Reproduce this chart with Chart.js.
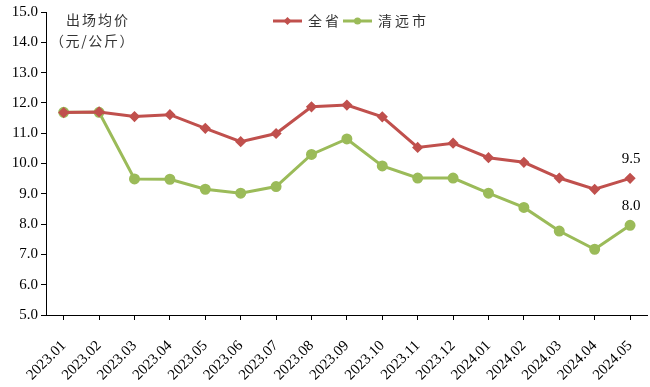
<!DOCTYPE html>
<html>
<head>
<meta charset="utf-8">
<script src="https://cdn.jsdelivr.net/npm/chart.js@4/dist/chart.umd.min.js"></script>
<style>
  html, body { margin: 0; padding: 0; background: #fff; overflow: hidden; }
  /* a bit wider than the window: the rotated last label's auto padding falls outside */
  #wrap { width: 660px; height: 387px; position: relative; }
</style>
</head>
<body>
<div id="wrap"><canvas id="priceChart"></canvas></div>
<script>
// months on the x axis
var months = ["2023.01","2023.02","2023.03","2023.04","2023.05","2023.06","2023.07","2023.08","2023.09",
              "2023.10","2023.11","2023.12","2024.01","2024.02","2024.03","2024.04","2024.05"];
// 全省 average price
var provinceValues = [11.68,11.70,11.55,11.61,11.16,10.72,10.99,11.87,11.93,11.54,10.53,10.67,10.19,10.04,9.52,9.15,9.51];
// 清远市 average price
var qingyuanValues = [11.69,11.69,9.49,9.48,9.15,9.02,9.24,10.30,10.81,9.92,9.52,9.52,9.02,8.55,7.77,7.17,7.96];
var seriesNames = ["全省", "清远市"];
var yTicks = [5,6,7,8,9,10,11,12,13,14,15];

var RED = "#c0504d";
var GREEN = "#9bbb59";
var CJK = "'Noto Sans CJK SC', sans-serif";
var SERIF = "'Liberation Serif', 'Times New Roman', serif";

// write text one character at a time with extra gap
function spacedText(ctx, text, x, y, gap) {
  for (var i = 0; i < text.length; i++) {
    var ch = text.charAt(i);
    ctx.fillText(ch, x, y);
    x += ctx.measureText(ch).width + gap;
  }
}

// draw legend, unit text and last point labels
var extrasPlugin = {
  id: "extras",
  afterDraw: function(chart) {
    var ctx = chart.ctx;
    ctx.save();

    // unit title in the top left
    ctx.fillStyle = "#333";
    ctx.font = "14px " + CJK;
    ctx.textBaseline = "middle";
    ctx.textAlign = "left";
    spacedText(ctx, "出场均价", 66, 20, 2);
    spacedText(ctx, "（元/公斤）", 50, 41, 1.6);

    // legend
    var items = [
      { x: 273, color: RED, style: "diamond", text: seriesNames[0] },
      { x: 343, color: GREEN, style: "circle", text: seriesNames[1] }
    ];
    items.forEach(function(it) {
      var y = 21;
      ctx.strokeStyle = it.color;
      ctx.lineWidth = 3;
      ctx.beginPath();
      ctx.moveTo(it.x, y);
      ctx.lineTo(it.x + 29, y);
      ctx.stroke();
      ctx.fillStyle = it.color;
      ctx.beginPath();
      var cx = it.x + 14.5;
      if (it.style === "circle") {
        ctx.arc(cx, y, 3.5, 0, Math.PI * 2);
      } else {
        ctx.moveTo(cx, y - 4); ctx.lineTo(cx + 4, y); ctx.lineTo(cx, y + 4); ctx.lineTo(cx - 4, y);
        ctx.closePath();
      }
      ctx.fill();
      ctx.fillStyle = "#333";
      ctx.font = "14px " + CJK;
      ctx.textAlign = "left";
      spacedText(ctx, it.text, it.x + 35, y, 3);
    });

    // value labels above the last points
    ctx.fillStyle = "#000";
    ctx.font = "15px " + SERIF;
    ctx.textAlign = "center";
    ctx.textBaseline = "alphabetic";
    chart.data.datasets.forEach(function(ds, i) {
      var meta = chart.getDatasetMeta(i);
      var last = meta.data[meta.data.length - 1];
      var v = ds.data[ds.data.length - 1];
      ctx.fillText(v.toFixed(1), last.x + 1, last.y - 15);
    });
    ctx.restore();
  }
};

var ctx = document.getElementById("priceChart");
var myChart = new Chart(ctx, {
  type: "line",
  data: {
    labels: months,
    datasets: [{
      label: seriesNames[0],
      data: provinceValues,
      borderColor: RED,
      backgroundColor: RED,
      borderWidth: 3,
      pointStyle: "rectRot",
      pointRadius: 3.5,
      tension: 0
    }, {
      label: seriesNames[1],
      data: qingyuanValues,
      borderColor: GREEN,
      backgroundColor: GREEN,
      borderWidth: 3,
      pointStyle: "circle",
      pointRadius: 4,
      tension: 0
    }]
  },
  options: {
    responsive: true,
    maintainAspectRatio: false,
    animation: false,
    layout: { padding: { top: 12, right: 0, left: 0, bottom: 0 } },
    plugins: {
      legend: { display: false },
      tooltip: { enabled: false }
    },
    scales: {
      x: {
        offset: true,
        grid: { display: true, drawOnChartArea: false, offset: false, color: "#000", tickLength: 5 },
        border: { color: "#000", width: 1 },
        ticks: {
          color: "#000",
          font: { family: SERIF, size: 15 },
          maxRotation: 45,
          minRotation: 45,
          autoSkip: false,
          padding: 17
        },
        afterFit: function(scale) { scale.height = 72; }
      },
      y: {
        min: 5,
        max: 15,
        afterBuildTicks: function(scale) {
          scale.ticks = yTicks.map(function(v) { return { value: v }; });
        },
        grid: { display: true, drawOnChartArea: false, color: "#000", tickLength: 5 },
        border: { color: "#000", width: 1 },
        ticks: {
          color: "#000",
          font: { family: SERIF, size: 15 },
          padding: 3,
          callback: function(v) { return Number(v).toFixed(1); }
        },
        afterFit: function(scale) { scale.width = 46; }
      }
    }
  },
  plugins: [extrasPlugin]
});
</script>
</body>
</html>
